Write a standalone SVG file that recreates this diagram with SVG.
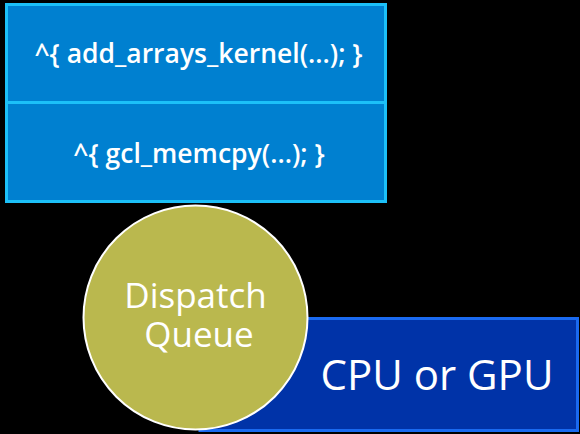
<svg xmlns="http://www.w3.org/2000/svg" width="580" height="434" viewBox="0 0 580 434">
  <style>
    .lbl { font-family: "Open Sans", "Liberation Sans", sans-serif; fill: #ffffff; text-anchor: middle; }
    .code { font-size: 26.5px; font-weight: 600; }
    .big { font-size: 35px; font-weight: 500; }
  </style>
  <rect x="0" y="0" width="580" height="434" fill="#000000"/>

  <!-- stack of queued blocks -->
  <g id="block-kernel">
    <rect x="6.5" y="4.5" width="379" height="98" fill="#0080d0" stroke="#1cc0f8" stroke-width="3"/>
    <text class="lbl code" x="198.5" y="63">^{ add_arrays_kernel(...); }</text>
  </g>
  <g id="block-memcpy">
    <rect x="6.5" y="102.5" width="379" height="99" fill="#0080d0" stroke="#1cc0f8" stroke-width="3"/>
    <text class="lbl code" x="199" y="163">^{ gcl_memcpy(...); }</text>
  </g>

  <!-- execution device -->
  <g id="device">
    <rect x="200" y="318.5" width="377.5" height="112" fill="#0033a8" stroke="#1a6af0" stroke-width="3"/>
    <text class="lbl" x="437" y="390" font-size="42">CPU or GPU</text>
  </g>

  <!-- queue -->
  <g id="queue">
    <circle cx="195.5" cy="317.5" r="112" fill="#bab84e" stroke="#ffffff" stroke-width="2"/>
    <text class="lbl big" x="195.5" y="308">Dispatch</text>
    <text class="lbl big" x="199" y="347">Queue</text>
  </g>

  <g id="connectors"/>
</svg>
